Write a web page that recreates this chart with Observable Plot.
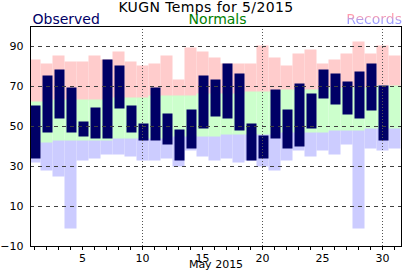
<!DOCTYPE html>
<html><head><meta charset="utf-8">
<script src="https://cdn.jsdelivr.net/npm/d3@7"></script>
<script src="https://cdn.jsdelivr.net/npm/@observablehq/plot@0.6"></script>
<style>
body{margin:0;background:#fff;font-family:"DejaVu Sans",sans-serif;}
#wrap{position:relative;width:412px;height:276px;overflow:hidden;background:#fff}
#chart{position:absolute;left:0;top:0}
.t{position:absolute;line-height:12px;white-space:nowrap;font-size:14px;font-family:"DejaVu Sans",sans-serif}
#title{left:206px;transform:translateX(-50%);top:1.2px;letter-spacing:0.4px;color:#000}
#obs{left:32.5px;top:13.2px;color:#000066}
#nor{left:188.6px;top:13.2px;color:#008000}
#rec{right:10px;top:13.2px;background:linear-gradient(to bottom,#ff9aaa 0%,#ff9aaa 25%,#9c9cff 65%,#9c9cff 100%);-webkit-background-clip:text;background-clip:text;color:transparent}
</style></head><body>
<div id="wrap">
<div id="chart"></div>
<div class="t" id="title">KUGN Temps for 5/2015</div>
<div class="t" id="obs">Observed</div>
<div class="t" id="nor">Normals</div>
<div class="t" id="rec">Records</div>
</div>
<script>
// Data (May 2015, KUGN)
const days = d3.range(1, 32);
const obsHigh  = [60,75,78,69,52,59,83,80,60,51,69,56,48,58,75,73,81,76,51,45,68,58,71,66,78,76,72,77,81,70,null];
const obsLow   = [34,47,54,47,45,44,44,59,47,43,43,41,33,39,49,55,54,48,33,34,44,39,40,49,64,61,56,54,58,43,null];
const normHigh = [62,62,63,63,63,63,63,64,64,64,65,65,65,65,66,66,66,66,67,67,67,68,68,68,68,69,69,69,69,70,70];
const normLow  = [42,42,43,43,43,43,43,44,44,44,44,44,45,45,45,45,46,46,46,46,46,47,47,47,47,48,48,48,49,49,49];
const recHigh  = [83,81,85,82,82,85,83,87,82,80,81,85,73,89,87,84,81,81,81,90,84,80,86,88,81,83,86,92,86,90,85];
const recLow   = [32,28,25,-1,33,34,36,36,35,33,33,34,30,38,35,33,34,32,33,30,28,33,38,35,38,36,41,-1,39,38,39];
const yTicks = [-10,10,30,50,70,90];
const gridY = [10,30,50,70,90];
const gridX = [10,20,30];
const xLabel = "May 2015";

const rows = days.map((d,i)=>({day:d, oh:obsHigh[i], ol:obsLow[i], nh:normHigh[i], nl:normLow[i], rh:recHigh[i], rl:recLow[i]}));
const obsRows = rows.filter(r => r.oh != null);

const band = {x1: d => d.day - 5.5/12, x2: d => d.day + 6.5/12, insetTop: -0.5, insetBottom: -0.5, clip: true};

const plot = Plot.plot({
  width: 412, height: 276,
  marginTop: 26, marginBottom: 30, marginLeft: 30, marginRight: 11,
  style: {fontFamily: "DejaVu Sans, sans-serif", fontSize: "11px", background: "transparent", color: "#000", overflow: "visible"},
  x: {domain: [2/3, 31 + 7/12]},
  y: {domain: [-10, 100]},
  marks: [
    Plot.rect(rows, {...band, y1: "rl", y2: "nl", fill: "#ccccff"}),
    Plot.rect(rows, {...band, y1: "nh", y2: "rh", fill: "#ffcccc"}),
    Plot.rect(rows, {...band, y1: "nl", y2: "nh", fill: "#ccffcc"}),
    Plot.rect(obsRows, {x1: d => d.day - 3.5/12, x2: d => d.day + 6.5/12, y1: "ol", y2: "oh", fill: "#000066", insetTop: -0.5, insetBottom: -0.5, clip: true}),
    Plot.ruleY(gridY, {stroke: "#404040", strokeDasharray: "4,4"}),
    Plot.ruleX(gridX, {stroke: "#555", strokeDasharray: "1,2"}),
    Plot.axisY({ticks: yTicks, tickSize: 0, tickPadding: 7, label: null, fontSize: 11}),
    Plot.axisX({ticks: days, tickSize: 4, tickPadding: 3.5, label: null, tickFormat: d => d % 5 === 0 ? String(d) : "", fontSize: 11}),
    Plot.text([xLabel], {frameAnchor: "bottom", dy: 21.5, fontSize: 11, fill: "#000"}),
    Plot.frame({stroke: "#000"})
  ]
});
document.getElementById("chart").appendChild(plot);
</script>
</body></html>
